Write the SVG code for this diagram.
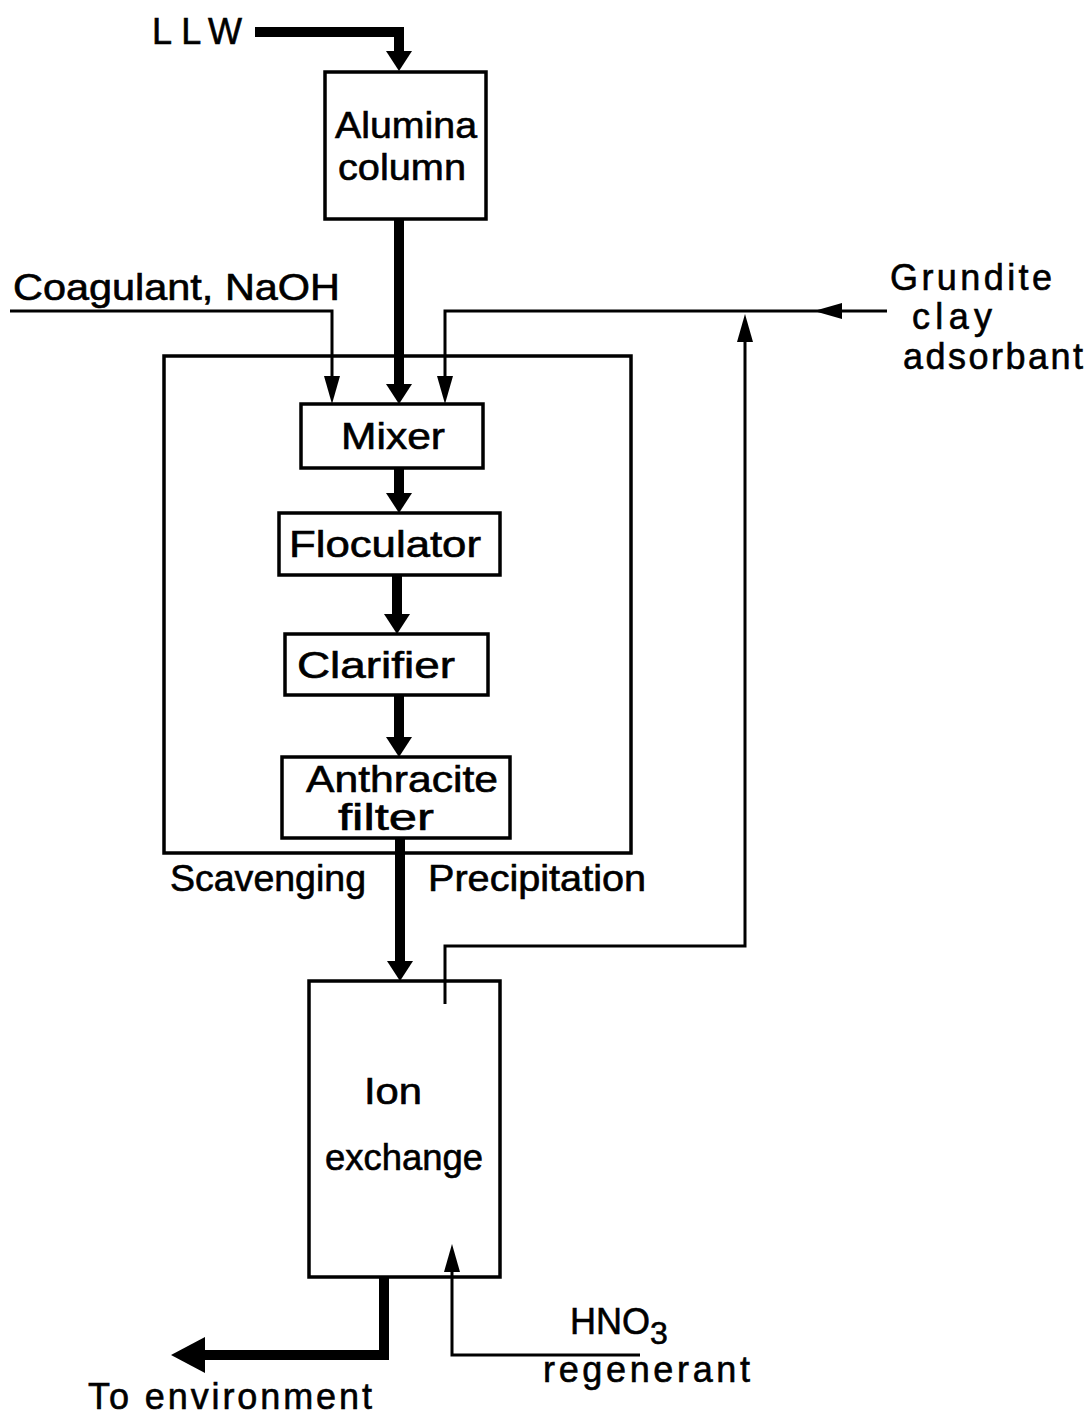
<svg xmlns="http://www.w3.org/2000/svg" width="1090" height="1417" viewBox="0 0 1090 1417">
<style>
.box{fill:#fff;stroke:#000;stroke-width:3.5}
.frame{fill:none;stroke:#000;stroke-width:3.5}
.thin{fill:none;stroke:#000;stroke-width:3}
.thick{fill:none;stroke:#000;stroke-width:10}
text{font-family:"Liberation Sans","DejaVu Sans",sans-serif;font-size:36px;fill:#000;stroke:#000;stroke-width:0.6}
.c{text-anchor:middle}
</style>
<defs>
<marker id="ah" markerUnits="userSpaceOnUse" viewBox="0 0 28 16" refX="0" refY="8" markerWidth="28" markerHeight="16" orient="auto">
<path d="M0,0 L28,8 L0,16 z" fill="#000"/>
</marker>
<marker id="AH" markerUnits="userSpaceOnUse" viewBox="0 0 20 26" refX="0" refY="13" markerWidth="20" markerHeight="26" orient="auto">
<path d="M0,0 L20,13 L0,26 z" fill="#000"/>
</marker>
<marker id="AHL" markerUnits="userSpaceOnUse" viewBox="0 0 34 36" refX="0" refY="18" markerWidth="34" markerHeight="36" orient="auto">
<path d="M0,0 L34,18 L0,36 z" fill="#000"/>
</marker>
</defs>

<g id="frame">
<rect class="frame" x="164" y="356" width="467" height="497"/>
<text x="170" y="891" textLength="196" lengthAdjust="spacingAndGlyphs">Scavenging</text>
<text x="428" y="891" textLength="218" lengthAdjust="spacingAndGlyphs">Precipitation</text>
</g>

<g id="alumina">
<rect class="box" x="325" y="72" width="161" height="147"/>
<text x="406" y="138" class="c" textLength="142" lengthAdjust="spacingAndGlyphs">Alumina</text>
<text x="402" y="180" class="c" textLength="128" lengthAdjust="spacingAndGlyphs">column</text>
</g>

<g id="mixer">
<rect class="box" x="301" y="404" width="182" height="64"/>
<text x="393" y="449" class="c" textLength="104" lengthAdjust="spacingAndGlyphs">Mixer</text>
</g>

<g id="floculator">
<rect class="box" x="279" y="513" width="221" height="62"/>
<text x="385" y="557" class="c" textLength="192" lengthAdjust="spacingAndGlyphs">Floculator</text>
</g>

<g id="clarifier">
<rect class="box" x="285" y="634" width="203" height="61"/>
<text x="376" y="678" class="c" textLength="158" lengthAdjust="spacingAndGlyphs">Clarifier</text>
</g>

<g id="anthracite">
<rect class="box" x="282" y="757" width="228" height="81"/>
<text x="402" y="792" class="c" textLength="192" lengthAdjust="spacingAndGlyphs">Anthracite</text>
<text x="386" y="830" class="c" textLength="96" lengthAdjust="spacingAndGlyphs">filter</text>
</g>

<g id="ionexchange">
<rect class="box" x="309" y="981" width="191" height="296"/>
<text x="393" y="1104" class="c" textLength="58" lengthAdjust="spacingAndGlyphs">Ion</text>
<text x="404" y="1170" class="c" textLength="158" lengthAdjust="spacingAndGlyphs">exchange</text>
</g>

<g id="connectors">
<path class="thick" d="M255,32 H399 V51" marker-end="url(#AH)"/>
<path class="thick" d="M399,219 V384" marker-end="url(#AH)"/>
<path class="thin" d="M10,311 H332 V376" marker-end="url(#ah)"/>
<path class="thin" d="M887,311 H842" marker-end="url(#ah)"/>
<path class="thin" d="M842,311 H445 V376" marker-end="url(#ah)"/>
<path class="thin" d="M445,1004 V946 H745 V342" marker-end="url(#ah)"/>
<path class="thick" d="M399,468 V493" marker-end="url(#AH)"/>
<path class="thick" d="M397,575 V614" marker-end="url(#AH)"/>
<path class="thick" d="M399,695 V737" marker-end="url(#AH)"/>
<path class="thick" d="M400,838 V961" marker-end="url(#AH)"/>
<path class="thick" d="M384,1277 V1355 H205" marker-end="url(#AHL)"/>
<path class="thin" d="M640,1355 H452 V1272" marker-end="url(#ah)"/>
</g>

<g id="labels">
<text x="152" y="44" textLength="90" lengthAdjust="spacing">LLW</text>
<text x="13" y="300" textLength="327" lengthAdjust="spacingAndGlyphs">Coagulant, NaOH</text>
<text x="890" y="290" textLength="162" lengthAdjust="spacing">Grundite</text>
<text x="912" y="329" textLength="80" lengthAdjust="spacing">clay</text>
<text x="903" y="369" textLength="180" lengthAdjust="spacing">adsorbant</text>
<text x="570" y="1334">HNO<tspan font-size="32" dy="10">3</tspan></text>
<text x="543" y="1382" textLength="207" lengthAdjust="spacing">regenerant</text>
<text x="88" y="1409" textLength="284" lengthAdjust="spacing">To environment</text>
</g>
</svg>
